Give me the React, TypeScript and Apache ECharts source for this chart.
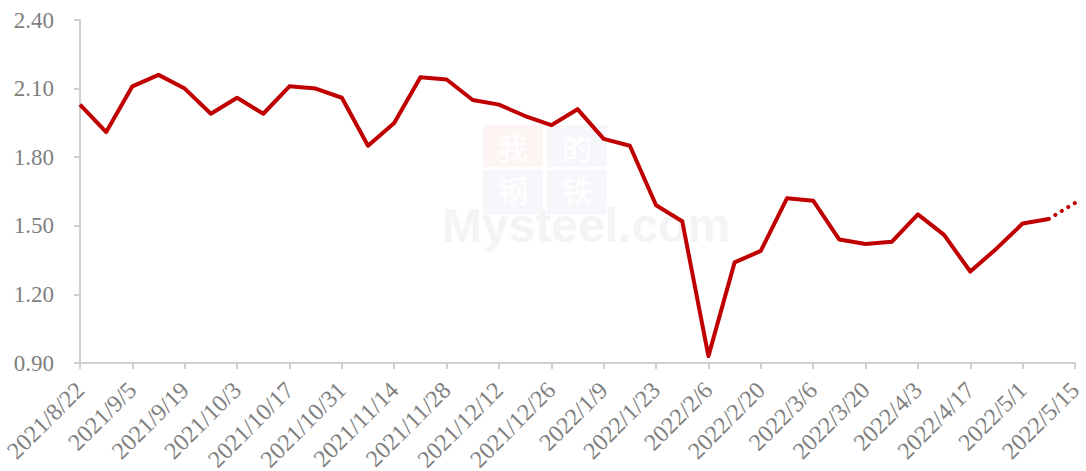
import React, { useEffect, useRef } from "react";
import * as echarts from "echarts";

const dates = [
  "2021/8/22", "2021/8/29", "2021/9/5", "2021/9/12", "2021/9/19", "2021/9/26",
  "2021/10/3", "2021/10/10", "2021/10/17", "2021/10/24", "2021/10/31", "2021/11/7",
  "2021/11/14", "2021/11/21", "2021/11/28", "2021/12/5", "2021/12/12", "2021/12/19",
  "2021/12/26", "2022/1/2", "2022/1/9", "2022/1/16", "2022/1/23", "2022/1/30",
  "2022/2/6", "2022/2/13", "2022/2/20", "2022/2/27", "2022/3/6", "2022/3/13",
  "2022/3/20", "2022/3/27", "2022/4/3", "2022/4/10", "2022/4/17", "2022/4/24",
  "2022/5/1", "2022/5/8", "2022/5/15",
];

const actualValues = [
  2.03, 1.91, 2.11, 2.16, 2.10, 1.99, 2.06, 1.99, 2.11, 2.10, 2.06, 1.85,
  1.95, 2.15, 2.14, 2.05, 2.03, 1.98, 1.94, 2.01, 1.88, 1.85, 1.59, 1.52,
  0.93, 1.34, 1.39, 1.62, 1.61, 1.44, 1.42, 1.43, 1.55, 1.46, 1.30, 1.40,
  1.51, 1.53,
];

const forecastValues = [1.53, 1.60];

const yTicks = { min: 0.9, max: 2.4, interval: 0.3 };

export default function App() {
  const ref = useRef<HTMLDivElement>(null);
  useEffect(() => {
    if (!ref.current) return;
    const chart = echarts.init(ref.current, null, { renderer: "svg" });
    const solid = dates.map((_, i) => (i < actualValues.length ? actualValues[i] : null));
    const startF = actualValues.length - 1;
    const dotted = dates.map((_, i) =>
      i >= startF && i - startF < forecastValues.length ? forecastValues[i - startF] : null
    );
    const font = '"Times New Roman", "Liberation Serif", serif';
    const cjk = '30px "Noto Sans CJK SC"';
    const glyph = (t: string, x: number, y: number) => ({
      type: "text", x, y, silent: true, z: 0,
      style: { text: t, fill: "#ffffff", font: cjk, align: "center", verticalAlign: "middle", lineHeight: 28 },
    });
    chart.setOption({
      animation: false,
      backgroundColor: "#ffffff",
      grid: { left: 80, right: 11, top: 20, bottom: 108, containLabel: false, outerBoundsMode: "none" },
      graphic: [
        { type: "rect", shape: { x: 483, y: 125, width: 60, height: 42 }, style: { fill: "#fdf4f4" }, silent: true, z: 0 },
        { type: "rect", shape: { x: 547, y: 125, width: 60, height: 42 }, style: { fill: "#f5f7fb" }, silent: true, z: 0 },
        { type: "rect", shape: { x: 483, y: 170, width: 60, height: 45 }, style: { fill: "#f5f7fb" }, silent: true, z: 0 },
        { type: "rect", shape: { x: 547, y: 170, width: 60, height: 45 }, style: { fill: "#f5f7fb" }, silent: true, z: 0 },
        glyph("我", 513, 146),
        glyph("的", 577, 146),
        glyph("钢", 513, 189),
        glyph("铁", 577, 189),
        { type: "text", x: 442, y: 241, silent: true, z: 0, style: { text: "Mysteel.com", fill: "#f4f4f4", font: 'bold 48px "Liberation Sans", Arial, sans-serif', align: "left", verticalAlign: "bottom", lineHeight: 32 } },
      ],
      xAxis: {
        type: "category",
        data: dates,
        boundaryGap: false,
        axisLine: { show: true, lineStyle: { color: "#cfcfcf", width: 2 } },
        axisTick: { show: true, interval: 1, length: 6, lineStyle: { color: "#cfcfcf", width: 2 } },
        axisLabel: {
          interval: 1,
          rotate: 45,
          margin: 23,
          color: "#7f7f7f",
          fontSize: 24,
          fontFamily: font,
        },
        splitLine: { show: false },
      },
      yAxis: {
        type: "value",
        min: yTicks.min,
        max: yTicks.max,
        interval: yTicks.interval,
        axisLine: { show: true, lineStyle: { color: "#cfcfcf", width: 2 } },
        axisTick: { show: true, length: 6, lineStyle: { color: "#cfcfcf", width: 2 } },
        axisLabel: {
          margin: 26,
          color: "#7f7f7f",
          fontSize: 23,
          fontFamily: font,
          formatter: (v: number) => v.toFixed(2),
        },
        splitLine: { show: false },
      },
      series: [
        {
          type: "line",
          data: solid,
          symbol: "none",
          lineStyle: { color: "#c00000", width: 4, join: "round" },
          z: 3,
        },
        {
          type: "line",
          data: dotted,
          symbol: "none",
          lineStyle: { color: "#c00000", width: 4, type: [0.1, 7.5], cap: "round" },
          z: 3,
        },
      ],
    });
    return () => chart.dispose();
  }, []);
  return (
    <div
      ref={ref}
      style={{ position: "fixed", left: 0, top: 0, width: 1086, height: 471, background: "#fff" }}
    />
  );
}
